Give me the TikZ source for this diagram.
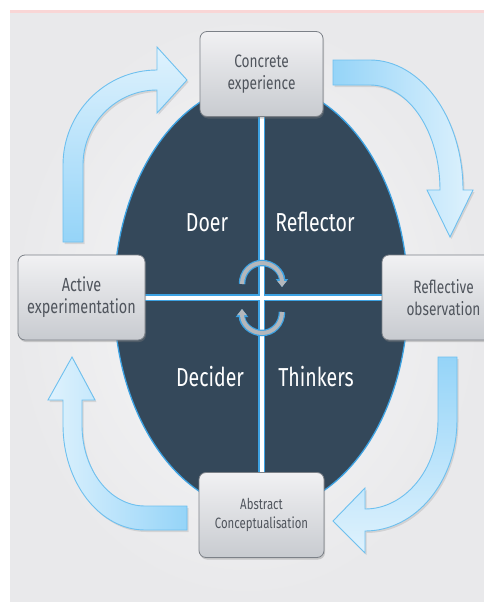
\documentclass[tikz,border=0pt]{standalone}
\usepackage{fontspec}
\usetikzlibrary{shapes.geometric,shadows,arrows.meta}
\newfontfamily\boxfont[FakeStretch=0.76]{Fira Sans}
\newfontfamily\quadfont[FakeStretch=0.75]{Fira Sans}

\definecolor{panel}{HTML}{E9E9EB}
\definecolor{panellight}{HTML}{F7F7F8}
\definecolor{topline}{HTML}{F9D6D6}
\definecolor{core}{HTML}{34485A}
\definecolor{glow}{HTML}{3DA2E2}
\definecolor{boxtop}{HTML}{F1F1F3}
\definecolor{boxbot}{HTML}{C8CBD0}
\definecolor{boxedge}{HTML}{7C8188}
\definecolor{boxtext}{HTML}{50555D}
\definecolor{flowsat}{HTML}{95D4F8}
\definecolor{flowpale}{HTML}{DFF2FD}
\definecolor{flowedge}{HTML}{6EC0EF}
\definecolor{spingray}{HTML}{B4B7BB}

\pgfdeclarelayer{back}
\pgfdeclarelayer{axes}
\pgfsetlayers{back,axes,main}

\tikzset{
  stage/.style={draw=boxedge, line width=0.8pt, rounded corners=7pt,
    top color=boxtop, bottom color=boxbot,
    minimum width=123pt, minimum height=85pt, align=center,
    text=boxtext, font=\boxfont\fontsize{18}{22}\selectfont,
    drop shadow={opacity=0.35, shadow xshift=1pt, shadow yshift=-2pt}},
  flow/.style={draw=flowedge, line width=0.9pt, line join=miter},
  flowshadow/.style={fill=black, opacity=0.10},
  quad/.style={text=white, font=\quadfont\fontsize{26}{30}\selectfont, anchor=base},
  axisglow/.style={draw=glow, line width=7.5pt},
  axiscore/.style={draw=white, line width=4pt},
  spin/.style={draw=spingray, line width=4pt, line cap=butt,
    -{Triangle[length=6pt,width=9pt]},
    preaction={draw=glow, line width=6.5pt, -{Triangle[length=8pt,width=12pt]}}}
}

\begin{document}
\begin{tikzpicture}[x=1pt,y=-1pt]
\useasboundingbox (0,0) rectangle (484,605);
\clip (0,0) rectangle (484,605);

\begin{pgfonlayer}{back}
% page background and panel
\fill[white] (0,0) rectangle (484,605);
\fill[topline] (10,10) rectangle (484,13.5);
\shade[inner color=panellight, outer color=panel] (10,13.5) rectangle (484,601);

% curved flow arrows (shadow first, then shaded body)
\begin{scope}[shift={(1.5,2)}]
  \fill[flowshadow] (63,242) -- (63,165) .. controls (63,113) and (105,70) .. (157,70)
    -- (157,47) -- (187,80) -- (157,113) -- (157,90)
    .. controls (116,90) and (83,124) .. (83,165) -- (83,242) -- cycle;
  \fill[flowshadow] (333,60) -- (370,60) .. controls (421,60) and (463,118) .. (463,190)
    -- (473,190) -- (450,237) -- (427,190) -- (440,190)
    .. controls (440,132) and (409,85) .. (370,85) -- (333,85) -- cycle;
  \fill[flowshadow] (438,357) -- (457,357) -- (457,420) .. controls (457,481) and (416,531) .. (365,531)
    -- (365,553) -- (333,521) -- (365,488) -- (365,509)
    .. controls (405,509) and (438,469) .. (438,420) -- cycle;
  \fill[flowshadow] (187,506) -- (187,530) -- (145,530) .. controls (100,530) and (63,483) .. (63,425)
    -- (63,400) -- (48,400) -- (72,357) -- (95,400) -- (82,400) -- (82,425)
    .. controls (82,470) and (110,506) .. (145,506) -- cycle;
\end{scope}

\shadedraw[flow, top color=flowpale, bottom color=flowsat]
  (63,242) -- (63,165) .. controls (63,113) and (105,70) .. (157,70)
  -- (157,47) -- (187,80) -- (157,113) -- (157,90)
  .. controls (116,90) and (83,124) .. (83,165) -- (83,242) -- cycle;
\shadedraw[flow, left color=flowsat, right color=flowpale]
  (333,60) -- (370,60) .. controls (421,60) and (463,118) .. (463,190)
  -- (473,190) -- (450,237) -- (427,190) -- (440,190)
  .. controls (440,132) and (409,85) .. (370,85) -- (333,85) -- cycle;
\shadedraw[flow, top color=flowsat, bottom color=flowpale]
  (438,357) -- (457,357) -- (457,420) .. controls (457,481) and (416,531) .. (365,531)
  -- (365,553) -- (333,521) -- (365,488) -- (365,509)
  .. controls (405,509) and (438,469) .. (438,420) -- cycle;
\shadedraw[flow, left color=flowpale, right color=flowsat]
  (187,506) -- (187,530) -- (145,530) .. controls (100,530) and (63,483) .. (63,425)
  -- (63,400) -- (48,400) -- (72,357) -- (95,400) -- (82,400) -- (82,425)
  .. controls (82,470) and (110,506) .. (145,506) -- cycle;

% central dark ellipse
\node[ellipse, fill=core, draw=glow, line width=1.3pt,
      minimum width=294pt, minimum height=428pt, inner sep=0pt] (core) at (261,297) {};
\end{pgfonlayer}

% the four stages
\node[stage] (ce) at (261.5,74) {Concrete\\experience};
\node[stage, minimum width=127pt, font=\boxfont\fontsize{19}{22}\selectfont] (ae) at (81.5,297.5) {Active\\experimentation};
\node[stage] (ro) at (443.5,297.5) {Reflective\\observation};
\node[stage, minimum width=125pt, font=\boxfont\fontsize{15}{19}\selectfont] (ac) at (261.5,515) {Abstract\\Conceptualisation};

% dividing axes, running from stage to stage beneath the boxes
\begin{pgfonlayer}{axes}
\draw[axisglow] (ce.south) -- (ac.north);
\draw[axisglow] (ae.east) -- (ro.west);
\draw[axiscore] (ce.south) -- (ac.north);
\draw[axiscore] (ae.east) -- (ro.west);

% rotation symbol at the centre
\draw[spin] (242,284) .. controls (242,272) and (251,263) .. (262,263)
  .. controls (273,263) and (282,272) .. (282,287);
\draw[spin] (282,312) .. controls (282,324) and (273,333) .. (262,333)
  .. controls (251,333) and (242,324) .. (242,309);
\end{pgfonlayer}

% quadrant labels
\node[quad] (doer) at (207,231) {Doer};
\node[quad] (refl) at (315,231) {Reflector};
\node[quad] (deci) at (210,386) {Decider};
\node[quad] (thin) at (316,386) {Thinkers};
\end{tikzpicture}
\end{document}
